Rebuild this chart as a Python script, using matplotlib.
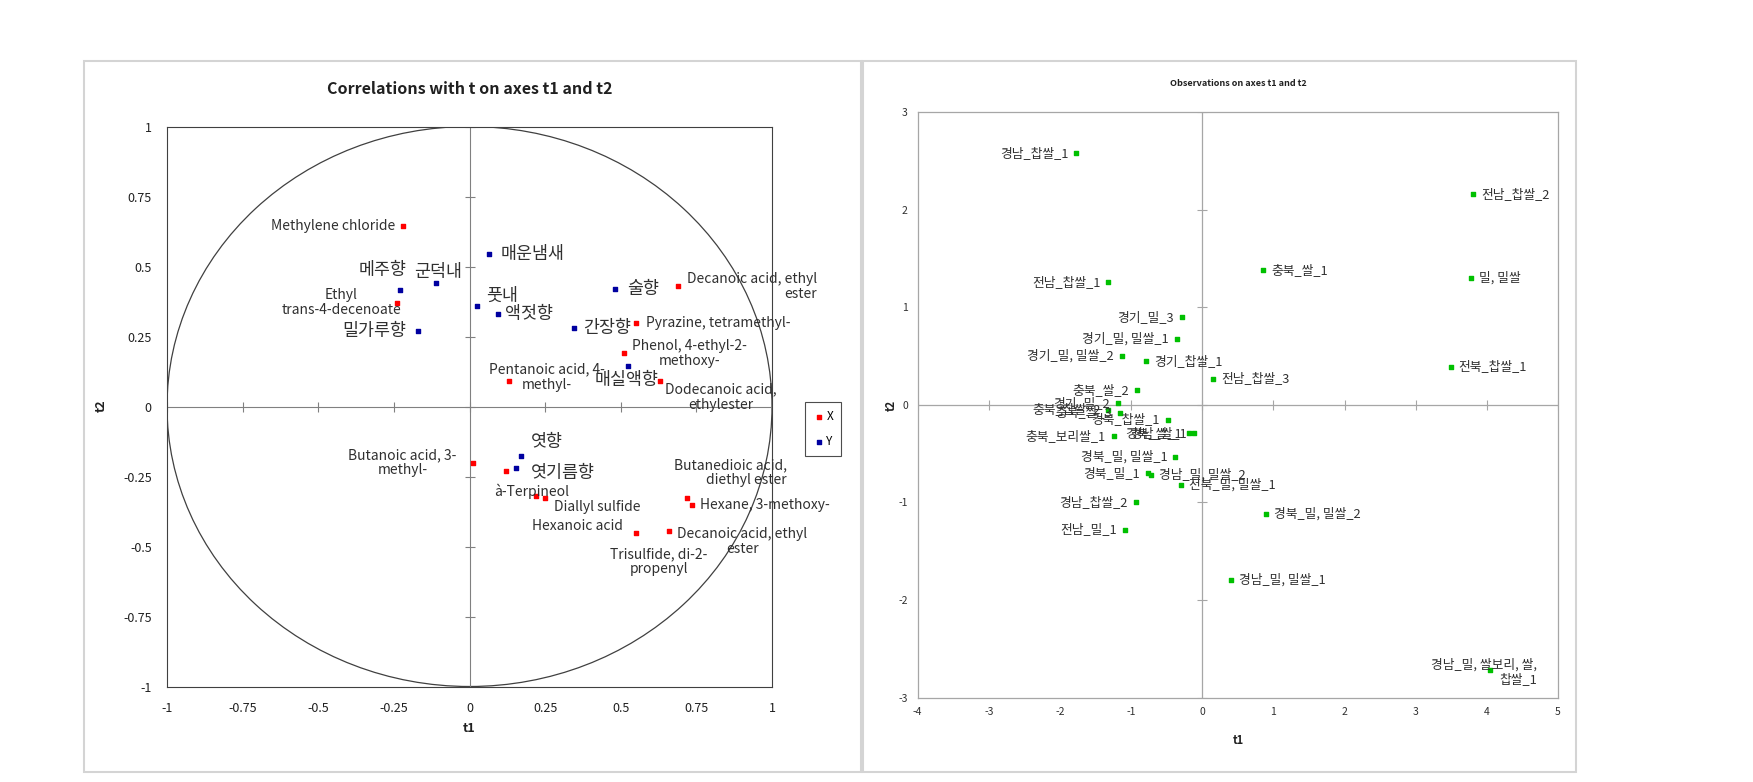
import matplotlib.pyplot as plt
from matplotlib.patches import Circle, Rectangle

plt.rcParams['font.family'] = ['Noto Sans CJK KR', 'DejaVu Sans']
plt.rcParams['axes.unicode_minus'] = False

# ---- left panel: correlations (X = volatile compounds, Y = sensory attributes)
x_names = ['Methylene chloride', 'Ethyl\ntrans-4-decenoate', 'Decanoic acid, ethyl\nester',
           'Pyrazine, tetramethyl-', 'Phenol, 4-ethyl-2-\nmethoxy-', 'Pentanoic acid, 4-\nmethyl-',
           'Dodecanoic acid,\nethylester', 'Butanoic acid, 3-\nmethyl-', 'à-Terpineol',
           'Diallyl sulfide', 'Hexanoic acid', 'Butanedioic acid,\ndiethyl ester',
           'Hexane, 3-methoxy-', 'Trisulfide, di-2-\npropenyl', 'Decanoic acid, ethyl\nester']
x_t1 = [-0.22, -0.24, 0.69, 0.55, 0.51, 0.13, 0.63, 0.01, 0.12, 0.22, 0.25, 0.72, 0.735, 0.55, 0.66]
x_t2 = [0.645, 0.37, 0.43, 0.30, 0.19, 0.09, 0.09, -0.20, -0.23, -0.32, -0.325, -0.325, -0.35, -0.45, -0.445]

y_names = ['메주향', '군덕내', '밀가루향', '매운냄새', '풋내', '액젓향', '간장향', '술향',
           '매실액향', '엿향', '엿기름향']
y_t1 = [-0.23, -0.11, -0.17, 0.065, 0.025, 0.095, 0.345, 0.48, 0.525, 0.17, 0.155]
y_t2 = [0.415, 0.44, 0.27, 0.545, 0.36, 0.33, 0.28, 0.42, 0.145, -0.175, -0.22]

cor_ticks = [-1, -0.75, -0.5, -0.25, 0, 0.25, 0.5, 0.75, 1]
cor_ticklabels = ['-1', '-0.75', '-0.5', '-0.25', '0', '0.25', '0.5', '0.75', '1']

# ---- right panel: observations
obs_names = ['경남_찹쌀_1', '전남_찹쌀_2', '충북_쌀_1', '밀, 밀쌀', '전남_찹쌀_1', '경기_밀_3',
             '경기_밀, 밀쌀_1', '경기_밀, 밀쌀_2', '경기_찹쌀_1', '전북_찹쌀_1', '전남_찹쌀_3',
             '충북_쌀_2', '경기_밀_2', '충북_찹쌀_2', '충북_쌀_3', '경북_찹쌀_1', '경북_쌀_1',
             '경남_쌀_1', '충북_보리쌀_1', '경북_밀, 밀쌀_1', '경북_밀_1', '경남_밀, 밀쌀_2',
             '전북_밀, 밀쌀_1', '경남_찹쌀_2', '경북_밀, 밀쌀_2', '전남_밀_1', '경남_밀, 밀쌀_1',
             '경남_밀, 쌀보리, 쌀,\n찹쌀_1']
obs_t1 = [-1.77, 3.81, 0.86, 3.78, -1.32, -0.28, -0.36, -1.13, -0.79, 3.49, 0.15,
          -0.92, -1.19, -1.32, -1.15, -0.48, -0.18, -0.11, -1.24, -0.38, -0.76, -0.72,
          -0.30, -0.93, 0.90, -1.09, 0.40, 4.04]
obs_t2 = [2.58, 2.16, 1.38, 1.30, 1.26, 0.90, 0.68, 0.50, 0.45, 0.39, 0.27,
          0.15, 0.02, -0.05, -0.08, -0.15, -0.29, -0.29, -0.32, -0.53, -0.70, -0.72,
          -0.82, -1.00, -1.12, -1.28, -1.79, -2.72]
obs_xticks = list(range(-4, 6))
obs_yticks = list(range(-3, 4))

# label placement (pixel offsets, alignment)
x_lab = [(-8, 0, 'right', 'center'), (4, 0, 'right', 'center'), (9, 0, 'left', 'right'),
         (10, 0, 'left', 'left'), (8, 0, 'left', 'center'), (38, 4, 'center', 'center'),
         (5, -16, 'left', 'center'), (-16, 0, 'right', 'center'), (26, -20, 'center', 'center'),
         (18, -11, 'left', 'left'), (32, -28, 'center', 'center'), (43, 25, 'center', 'right'),
         (8, 0, 'left', 'left'), (23, -29, 'center', 'center'), (8, -10, 'left', 'center')]
y_lab = [(7, 20, 'right'), (2, 11, 'center'), (-12, 0, 'right'), (11, 0, 'left'),
         (9, 10, 'left'), (7, 0, 'left'), (9, 0, 'left'), (12, 0, 'left'),
         (-2, -14, 'center'), (10, 14, 'left'), (14, -5, 'left')]
obs_side = ['L', 'R', 'R', 'R', 'L', 'L', 'L', 'L', 'R', 'R', 'R',
            'L', 'L', 'L', 'L', 'L', 'L', 'L', 'L', 'L', 'L', 'R',
            'R', 'L', 'R', 'L', 'R', 'S']

W, H = 1753, 782
fig = plt.figure(figsize=(W / 100, H / 100), dpi=100)
fig.patch.set_facecolor('white')


def frac_box(x0, y0, x1, y1):
    return [x0 / W, 1 - y1 / H, (x1 - x0) / W, (y1 - y0) / H]


# chart frames
for x0, x1 in [(84, 861), (863, 1576)]:
    b = frac_box(x0, 61, x1, 772)
    fig.add_artist(Rectangle((b[0], b[1]), b[2], b[3], transform=fig.transFigure,
                             fill=False, edgecolor='#d4d4d4', lw=1.5))

# ---------------- left panel
ax1 = fig.add_axes(frac_box(167, 126.5, 772, 686.5))
ax1.set_xlim(-1, 1)
ax1.set_ylim(-1, 1)
for s in ax1.spines.values():
    s.set_color('#404040')
    s.set_linewidth(0.8)
ax1.add_patch(Circle((0, 0), 1, fill=False, edgecolor='#404040', lw=0.9))
ax1.axhline(0, color='#808080', lw=0.8)
ax1.axvline(0, color='#808080', lw=0.8)
ax1.plot(cor_ticks, [0] * len(cor_ticks), ls='none', marker='|', ms=7, mew=0.8, color='#808080')
ax1.plot([0] * len(cor_ticks), cor_ticks, ls='none', marker='_', ms=7, mew=0.8, color='#808080')
ax1.set_xticks(cor_ticks)
ax1.set_xticklabels(cor_ticklabels)
ax1.set_yticks(cor_ticks)
ax1.set_yticklabels(cor_ticklabels)
ax1.tick_params(length=0, labelsize=9, pad=11, colors='#202020')

ax1.scatter(x_t1, x_t2, s=9, marker='s', color='#ff0000', label='X', zorder=3)
ax1.scatter(y_t1, y_t2, s=9, marker='s', color='#0000a0', label='Y', zorder=3)

for name, px, py, (dx, dy, ha, ma) in zip(x_names, x_t1, x_t2, x_lab):
    ax1.annotate(name, (px, py), xytext=(dx, dy), textcoords='offset pixels',
                 ha=ha, va='center', multialignment=ma, fontsize=10,
                 color='#303030', linespacing=1.1)
for name, px, py, (dx, dy, ha) in zip(y_names, y_t1, y_t2, y_lab):
    ax1.annotate(name, (px, py), xytext=(dx, dy), textcoords='offset pixels',
                 ha=ha, va='center', fontsize=12.5, color='#303030')

leg = ax1.legend(loc='center left', bbox_to_anchor=(1.045, 0.46), fontsize=8.5,
                 frameon=True, fancybox=False, edgecolor='#202020', handletextpad=0.1,
                 handlelength=1.0, borderpad=0.7, labelspacing=1.0, markerscale=0.9)
leg.get_frame().set_linewidth(0.8)

fig.text(469.5 / W, 1 - 89 / H, 'Correlations with t on axes t1 and t2', ha='center',
         va='center', fontsize=11.5, fontweight='bold', color='#202020')
fig.text(469.5 / W, 1 - 729 / H, 't1', ha='center', va='center', fontsize=9,
         fontweight='bold', color='#202020')
fig.text(101 / W, 1 - 406 / H, 't2', ha='center', va='center', fontsize=9,
         fontweight='bold', rotation=90, color='#202020')

# ---------------- right panel
ax2 = fig.add_axes(frac_box(917.6, 112.5, 1558, 697.5))
ax2.set_xlim(-4, 5)
ax2.set_ylim(-3, 3)
for s in ax2.spines.values():
    s.set_color('#a6a6a6')
    s.set_linewidth(0.9)
ax2.axhline(0, color='#a6a6a6', lw=0.9)
ax2.axvline(0, color='#a6a6a6', lw=0.9)
ax2.plot(obs_xticks, [0] * len(obs_xticks), ls='none', marker='|', ms=7, mew=0.8, color='#a6a6a6')
ax2.plot([0] * len(obs_yticks), obs_yticks, ls='none', marker='_', ms=7, mew=0.8, color='#a6a6a6')
ax2.set_xticks(obs_xticks)
ax2.set_yticks(obs_yticks)
ax2.tick_params(length=0, labelsize=7.5, pad=7, colors='#303030')

ax2.scatter(obs_t1, obs_t2, s=9, marker='s', color='#00c000', zorder=3)
for name, px, py, side in zip(obs_names, obs_t1, obs_t2, obs_side):
    if side == 'L':
        kw = dict(xytext=(-8, 0), ha='right')
    elif side == 'R':
        kw = dict(xytext=(8, 0), ha='left')
    else:
        kw = dict(xytext=(47, -2), ha='right', multialignment='right')
    ax2.annotate(name, (px, py), textcoords='offset pixels', va='center',
                 fontsize=9.2, color='#303030', **kw)

fig.text(1238 / W, 1 - 84 / H, 'Observations on axes t1 and t2', ha='center', va='center',
         fontsize=6.5, fontweight='bold', color='#202020')
fig.text(1238 / W, 1 - 740 / H, 't1', ha='center', va='center', fontsize=8,
         fontweight='bold', color='#202020')
fig.text(891 / W, 1 - 405 / H, 't2', ha='center', va='center', fontsize=8,
         fontweight='bold', rotation=90, color='#202020')

fig.savefig('out.png', dpi=100, facecolor='white')
